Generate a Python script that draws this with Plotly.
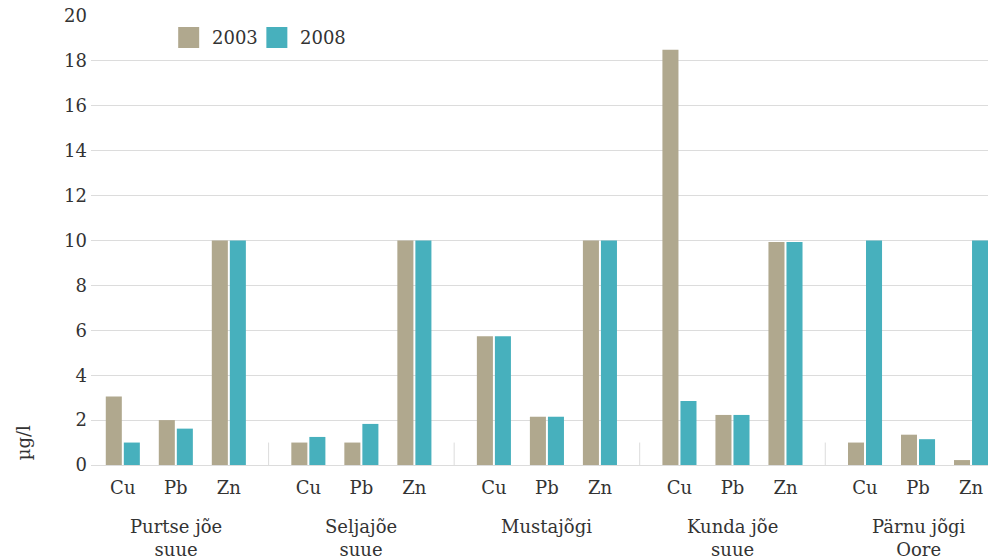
import plotly.graph_objects as go

groups = ["Purtse jõe<br>suue", "Seljajõe<br>suue", "Mustajõgi", "Kunda jõe<br>suue", "Pärnu jõgi<br>Oore"]
metals = ["Cu", "Pb", "Zn"]
years = ["2003", "2008"]
vals_2003 = [3.05, 2.0, 10.0,   1.0, 1.0, 10.0,   5.73, 2.15, 10.0,   18.5, 2.23, 9.93,   1.0, 1.35, 0.22]
vals_2008 = [1.0, 1.62, 10.0,   1.25, 1.83, 10.0,   5.73, 2.15, 10.0,   2.85, 2.23, 9.93,   10.0, 1.15, 10.0]
colors = ["#B0A88E", "#47B0BD"]

GROUP_STEP = 3.5
xpos = [g * GROUP_STEP + s for g in range(len(groups)) for s in range(len(metals))]
xlabels = [m for _ in groups for m in metals]

font_family = "DejaVu Serif"
txt_color = "#333333"

fig = go.Figure()
for name, vals, col in zip(years, [vals_2003, vals_2008], colors):
    fig.add_trace(go.Bar(x=xpos, y=vals, name=name, marker=dict(color=col, line=dict(width=0)),
                         showlegend=False))

shapes = []
annotations = []
# group dividers
for g in range(1, len(groups)):
    xd = (xpos[g * 3 - 1] + xpos[g * 3]) / 2
    shapes.append(dict(type="line", xref="x", yref="y", x0=xd, x1=xd, y0=0, y1=1,
                       line=dict(color="#dcdcdc", width=1)))
# group labels
for g, name in enumerate(groups):
    annotations.append(dict(x=xpos[g * 3 + 1], y=-0.110, xref="x", yref="paper", text=name,
                            showarrow=False, yanchor="top", xanchor="center",
                            font=dict(family=font_family, size=18, color=txt_color)))
# y-axis title
annotations.append(dict(x=-0.075, y=0.05, xref="paper", yref="paper", text="µg/l", textangle=-90,
                        showarrow=False, xanchor="center", yanchor="middle",
                        font=dict(family=font_family, size=18, color=txt_color)))
# custom legend
lx = [0.0972, 0.1955]
for i, (name, col) in enumerate(zip(years, colors)):
    shapes.append(dict(type="rect", xref="paper", yref="paper", x0=lx[i], x1=lx[i] + 0.0234,
                       y0=0.9287, y1=0.9755, fillcolor=col, line=dict(width=0)))
    annotations.append(dict(x=lx[i] + 0.0234 + 0.012, y=0.952, xref="paper", yref="paper", text=name,
                            showarrow=False, xanchor="left", yanchor="middle",
                            font=dict(family=font_family, size=18, color=txt_color)))

fig.update_layout(
    width=988, height=560,
    margin=dict(l=91, r=0, t=16, b=95, autoexpand=False),
    paper_bgcolor="white", plot_bgcolor="white",
    barmode="group", bargap=0.32, bargroupgap=0.11,
    font=dict(family=font_family, size=17, color=txt_color),
    shapes=shapes, annotations=annotations,
    xaxis=dict(range=[-0.6, 16.32], tickmode="array", tickvals=xpos, ticktext=xlabels,
               showgrid=False, zeroline=False, showline=False, ticks="", automargin=False,
               ticklabelstandoff=10, tickfont=dict(size=18)),
    yaxis=dict(range=[0, 20], dtick=2, showgrid=True, gridcolor="#dcdcdc", gridwidth=1,
               zeroline=True, zerolinecolor="#dcdcdc", zerolinewidth=1, showline=False,
               ticks="", automargin=False, ticklabelstandoff=3, ticklabeloverflow="allow",
               tickfont=dict(size=18)),
)

fig.write_html("out.html", config={"displayModeBar": False},
               post_script="document.body.style.margin='0';document.body.style.overflow='hidden';")
